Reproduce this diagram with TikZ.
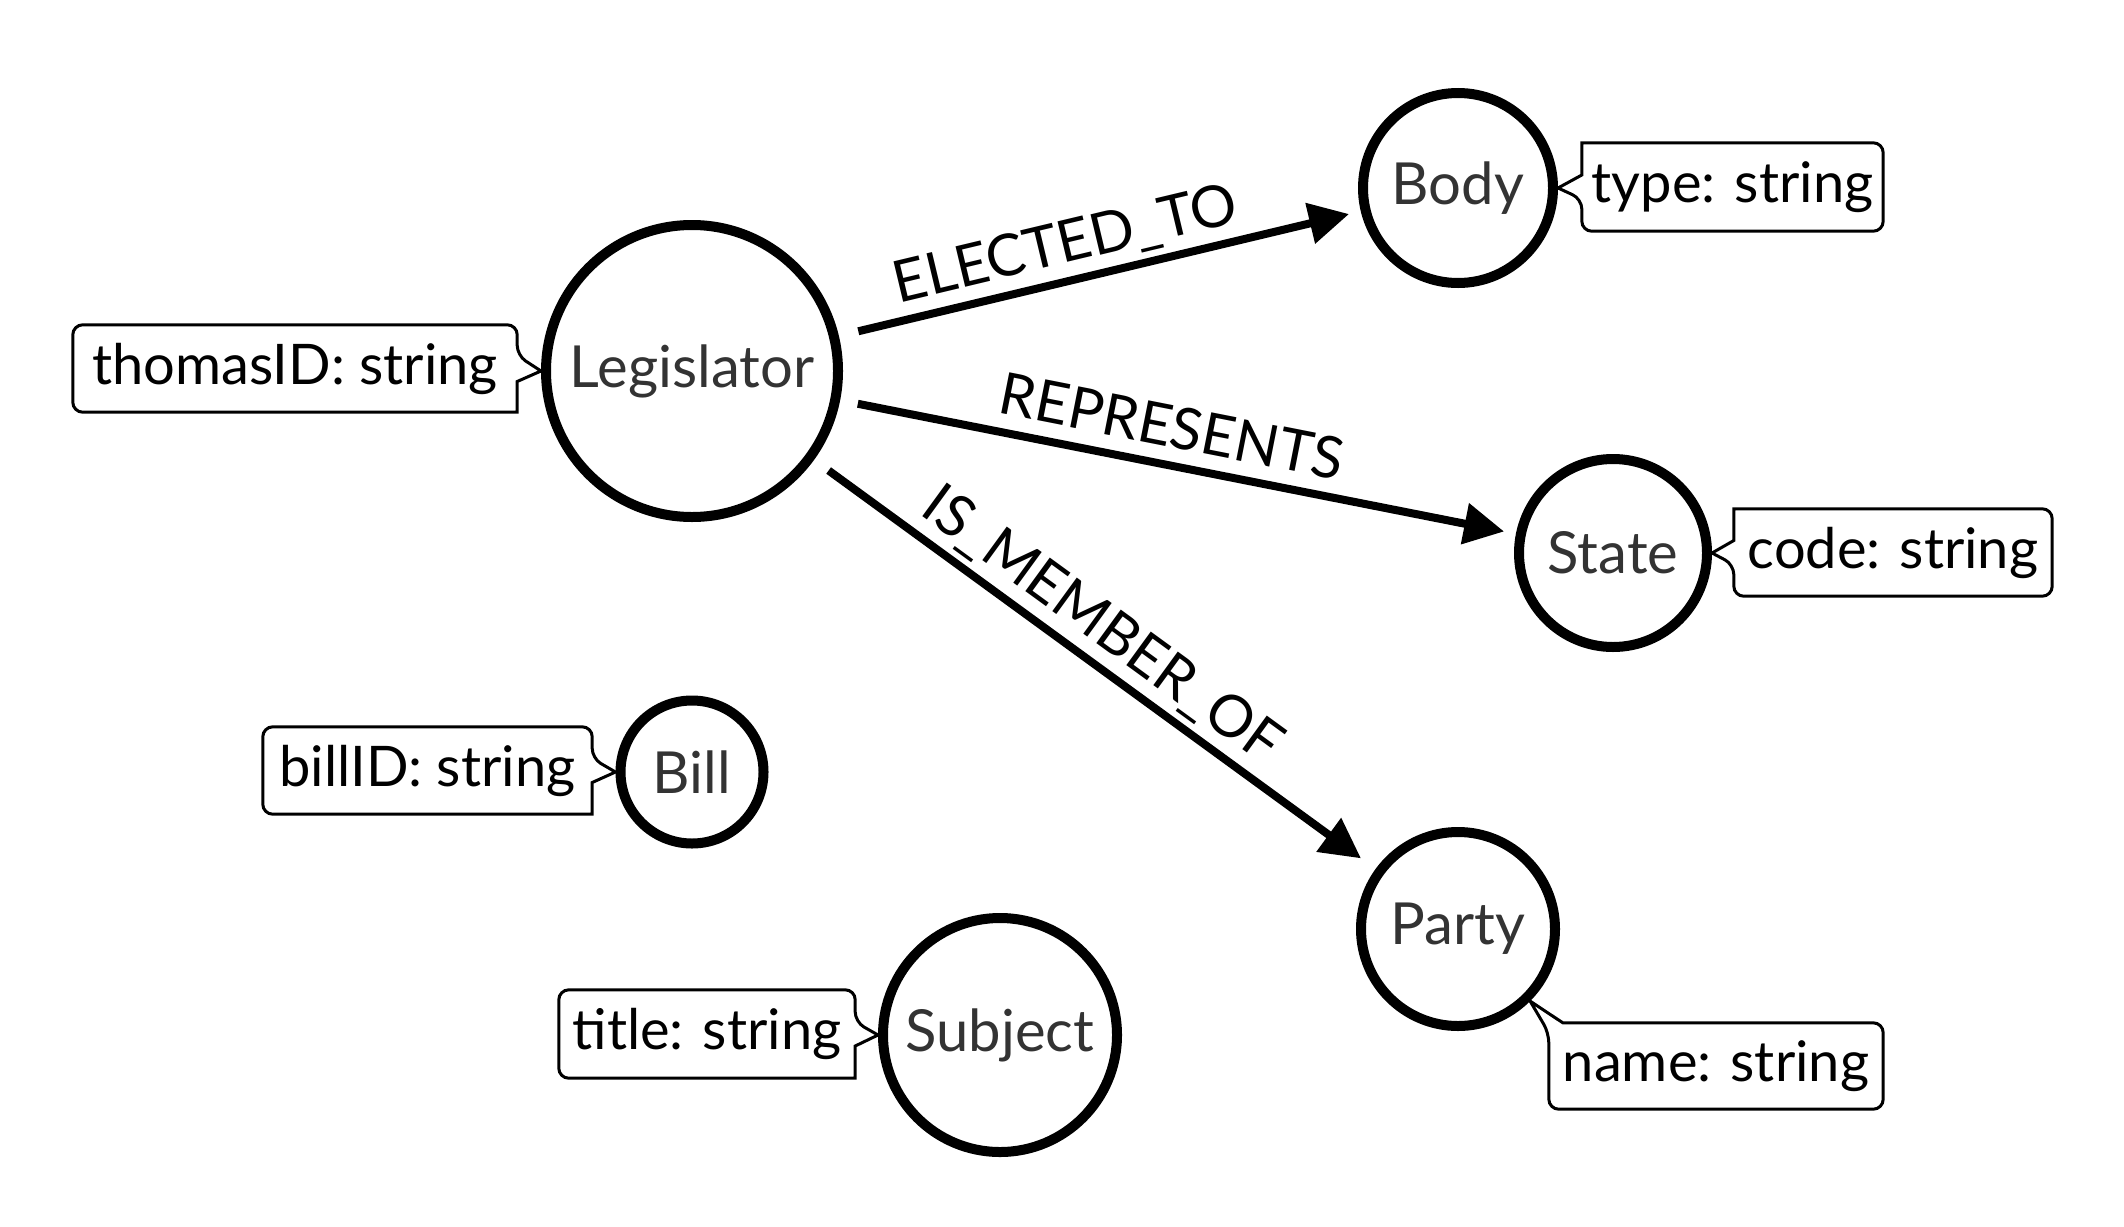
\documentclass[tikz,border=0pt]{standalone}
\usepackage{fontspec}
\setmainfont{Lato}
\usetikzlibrary{arrows.meta,calc}
\definecolor{labelgray}{HTML}{333333}
\tikzset{
  entity/.style={circle, draw=black, line width=10pt, inner sep=0pt, text=labelgray, font=\fontsize{58}{60}\selectfont},
  attr/.style={inner sep=0pt, font=\fontsize{56}{60}\selectfont, text=black},
  attrline/.style={draw=black, line width=3pt},
  rel/.style={line width=8pt, -{Triangle[length=40pt,width=40pt]}},
  rellabel/.style={sloped, inner sep=0pt, text height=41pt, text depth=0pt, font=\fontsize{58}{60}\selectfont}
}
\begin{document}
\begin{tikzpicture}[x=1pt,y=-1pt]
\useasboundingbox[fill=white] (0,0) rectangle (2124,1226);
% entities
\node[entity, minimum size=292pt] (leg) at (692,371) {Legislator};
\node[entity, minimum size=190pt] (body) at (1458,188) {Body};
\node[entity, minimum size=188pt] (state) at (1613,553) {State};
\node[entity, minimum size=194pt] (party) at (1458,929) {Party};
\node[entity, minimum size=143pt] (bill) at (692,772) {Bill};
\node[entity, minimum size=234pt] (subj) at (1000,1035) {Subject};
% relationships
\draw[rel, shorten <=20pt, shorten >=12pt] (leg) -- (body)
  node[rellabel, above=14pt, pos=0.45] (lel) {ELECTED\_TO};
\draw[rel, shorten <=18pt, shorten >=12pt] (leg) -- (state)
  node[rellabel, above=14pt, pos=0.48] (lrep) {REPRESENTS};
\draw[rel, shorten <=18pt, shorten >=18pt] (leg) -- (party)
  node[rellabel, above=14pt, pos=0.475] (lmem) {IS\_MEMBER\_OF};
% attribute callouts
\node[attr, minimum width=444pt, minimum height=87pt] (tid) at (295,368.5) {thomasID: string};
\draw[attrline] (tid.south) [rounded corners=10pt] -- (tid.south west) -- (tid.north west) -- (tid.north east)
  -- ($(tid.east)+(0,-13)$) [sharp corners] -- (leg.west) -- ($(tid.east)+(0,13)$) -- (tid.south east) [rounded corners=10pt] -- cycle;

\node[attr, minimum width=301pt, minimum height=88pt] (typ) at (1732.5,187) {type: string};
\draw[attrline] (typ.north) [rounded corners=10pt] -- (typ.north east) -- (typ.south east) -- (typ.south west)
  -- ($(typ.west)+(0,12)$) [sharp corners] -- (body.east) -- ($(typ.west)+(0,-12)$) -- (typ.north west) [rounded corners=10pt] -- cycle;

\node[attr, minimum width=318pt, minimum height=87pt] (cod) at (1893,552.5) {code: string};
\draw[attrline] (cod.north) [rounded corners=10pt] -- (cod.north east) -- (cod.south east) -- (cod.south west)
  -- ($(cod.west)+(0,12)$) [sharp corners] -- (state.east) -- ($(cod.west)+(0,-12)$) -- (cod.north west) [rounded corners=10pt] -- cycle;

\node[attr, minimum width=329pt, minimum height=87pt] (bid) at (427.5,770.5) {billID: string};
\draw[attrline] (bid.south) [rounded corners=10pt] -- (bid.south west) -- (bid.north west) -- (bid.north east)
  -- ($(bid.east)+(0,-12)$) [sharp corners] -- (bill.west) -- ($(bid.east)+(0,12)$) -- (bid.south east) [rounded corners=10pt] -- cycle;

\node[attr, minimum width=296pt, minimum height=88pt] (ttl) at (707,1034) {title: string};
\draw[attrline] (ttl.south) [rounded corners=10pt] -- (ttl.south west) -- (ttl.north west) -- (ttl.north east)
  -- ($(ttl.east)+(0,-12)$) [sharp corners] -- (subj.west) -- ($(ttl.east)+(0,12)$) -- (ttl.south east) [rounded corners=10pt] -- cycle;

\node[attr, minimum width=334pt, minimum height=86pt] (nam) at (1716,1066) {name: string};
\draw[attrline] (nam.north) [rounded corners=10pt] -- (nam.north east) -- (nam.south east) -- (nam.south west)
  -- ($(nam.north west)+(0,10)$) [sharp corners] -- (party.-45) -- ($(nam.north west)+(14,0)$) [rounded corners=10pt] -- cycle;
\end{tikzpicture}
\end{document}
